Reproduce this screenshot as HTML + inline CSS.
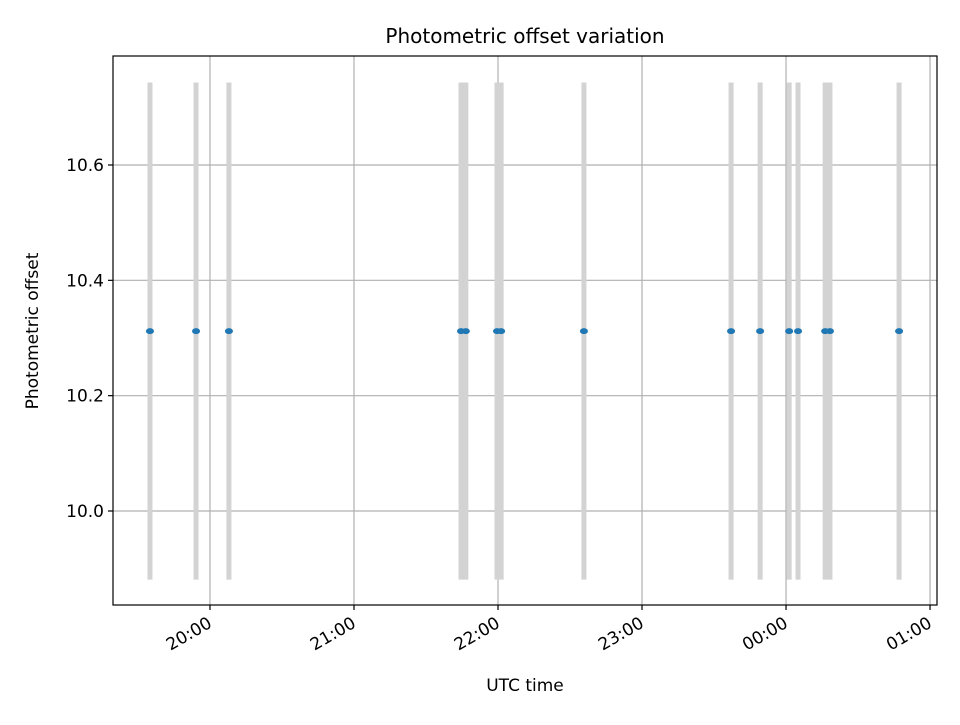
<!DOCTYPE html>
<html><head><meta charset="utf-8"><style>
html,body{margin:0;padding:0;background:#fff}
svg text{font-family:"DejaVu Sans","Liberation Sans",sans-serif;fill:#000}
</style></head><body>
<svg id="chart" width="960" height="720" xmlns="http://www.w3.org/2000/svg">
<g id="grid"></g>
<g id="bars"></g>
<g id="points"></g>
<rect x="113" y="56" width="824" height="549" fill="none" stroke="#000" stroke-width="1.2"/>
<g id="xticks"></g>
<g id="yticks"></g>
<text x="525" y="43" font-size="20" text-anchor="middle">Photometric offset variation</text>
<text x="525" y="691" font-size="17" text-anchor="middle">UTC time</text>
<text x="38" y="331" font-size="17" text-anchor="middle" transform="rotate(-90 38 331)">Photometric offset</text>
</svg>
<script>
// minutes since 19:00 UTC
const times = [35, 54.2, 67.9, 164.6, 166.6, 179.6, 181.3, 215.8, 277.1, 289.2, 301.3, 305, 316.3, 318.3, 347.1];
const offsets = [10.312,10.312,10.312,10.312,10.312,10.312,10.312,10.312,10.312,10.312,10.312,10.312,10.312,10.312,10.312];
const barLow = 9.881;
const barHigh = 10.743;
const xTickMinutes = [60, 120, 180, 240, 300, 360];
const xTickLabels = ["20:00", "21:00", "22:00", "23:00", "00:00", "01:00"];
const yTickValues = [10.0, 10.2, 10.4, 10.6];
const yTickLabels = ["10.0", "10.2", "10.4", "10.6"];

const L=113,R=937,T=56,B=605;
const xMin=19.6,xMax=362.9,yMin=9.837,yMax=10.789;
const xs=m=>L+(m-xMin)/(xMax-xMin)*(R-L);
const ys=v=>B-(v-yMin)/(yMax-yMin)*(B-T);
const NS="http://www.w3.org/2000/svg";
function mk(tag,attrs,parent){const e=document.createElementNS(NS,tag);for(const k in attrs)e.setAttribute(k,attrs[k]);parent.appendChild(e);return e;}
const grid=document.getElementById('grid'),bars=document.getElementById('bars'),pts=document.getElementById('points'),xt=document.getElementById('xticks'),yt=document.getElementById('yticks');
xTickMinutes.forEach((m,i)=>{
  const x=xs(m);
  const g=mk('line',{x1:x,x2:x,y1:T,y2:B,stroke:'#b0b0b0','stroke-width':1.2},grid);
  
  
  const t=mk('line',{x1:x,x2:x,y1:B,y2:B+5,stroke:'#000','stroke-width':1.2},xt);
  
  
  const ax=x-3, ay=B+11;
  const lb=mk('text',{x:ax,y:ay,'font-size':17,'text-anchor':'end',transform:`rotate(-30 ${ax} ${ay})`,'dominant-baseline':'hanging'},xt);
  lb.textContent=xTickLabels[i];
  
  
});
yTickValues.forEach((v,i)=>{
  const y=ys(v);
  const g=mk('line',{x1:L,x2:R,y1:y,y2:y,stroke:'#b0b0b0','stroke-width':1.2},grid);
  
  
  const t=mk('line',{x1:L-5,x2:L,y1:y,y2:y,stroke:'#000','stroke-width':1.2},yt);
  
  
  const lb=mk('text',{x:L-9,y:y+6,'font-size':17,'text-anchor':'end'},yt);
  lb.textContent=yTickLabels[i];
  
  
});
times.forEach((m,i)=>{
  const x=xs(m);
  const b=mk('rect',{x:x-2.5,y:ys(barHigh),width:5,height:ys(barLow)-ys(barHigh),fill:'#d3d3d3'},bars);
  
  
});
times.forEach((m,i)=>{
  const c=mk('ellipse',{cx:xs(m),cy:ys(offsets[i]),rx:4,ry:3,fill:'#1f77b4'},pts);
  
  
});
</script>
</body></html>
